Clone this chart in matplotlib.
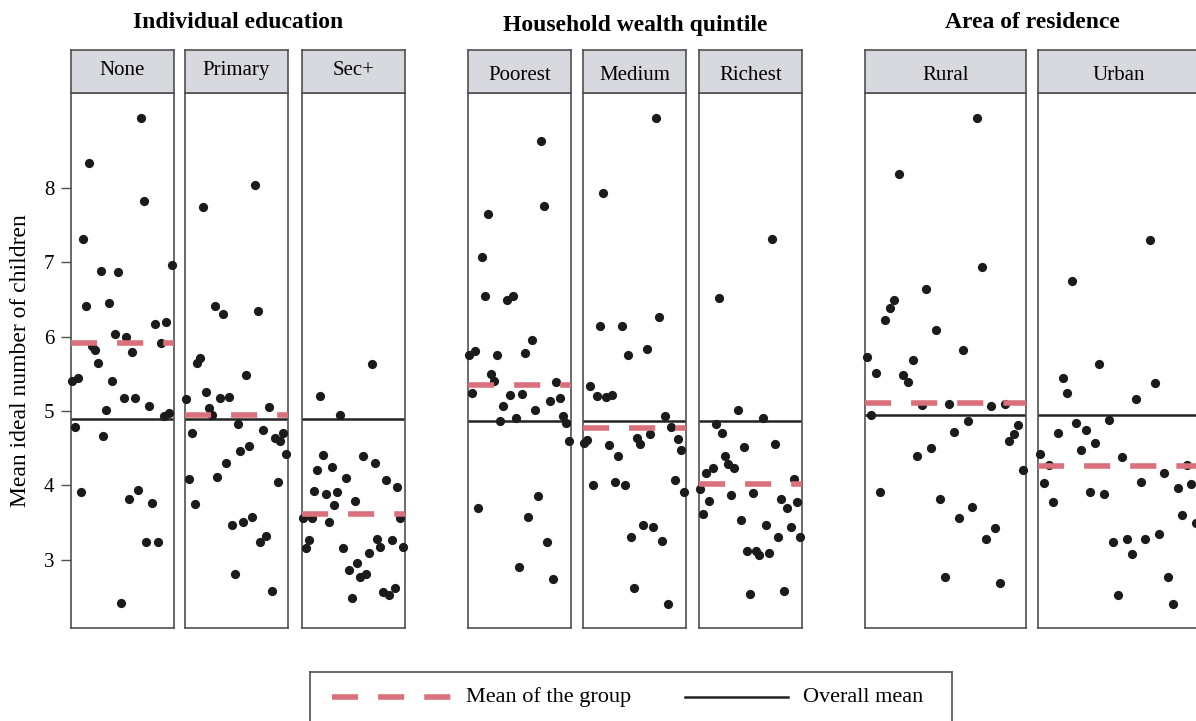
import numpy as np
import matplotlib
matplotlib.use('Agg')
import matplotlib.pyplot as plt
from matplotlib.lines import Line2D

plt.rcParams['font.family'] = ['Liberation Serif', 'DejaVu Serif']

# data
group_titles = ['Individual education', 'Household wealth quintile', 'Area of residence']
group_panels = [['None', 'Primary', 'Sec+'],
                ['Poorest', 'Medium', 'Richest'],
                ['Rural', 'Urban']]
overall_means = [4.89, 4.86, 4.95]

none_vals = [5.40, 4.78, 5.44, 3.91, 7.32, 6.41, 8.34, 5.87, 5.82, 5.64,
             6.89, 4.66, 5.02, 6.45, 5.41, 6.03, 6.87, 2.41, 5.18, 5.99,
             3.82, 5.80, 5.17, 3.94, 8.95, 7.82, 3.24, 5.07, 3.76, 6.17,
             3.24, 5.91, 4.93, 6.20, 4.97, 6.96]
primary_vals = [5.16, 4.08, 4.70, 3.75, 5.65, 5.71, 7.74, 5.25, 5.04, 4.94,
                6.41, 4.11, 5.18, 6.31, 4.30, 5.19, 3.47, 2.81, 4.82, 4.46,
                3.50, 5.48, 4.53, 3.58, 8.04, 6.34, 3.24, 4.75, 3.32, 5.06,
                2.58, 4.64, 4.04, 4.59, 4.71, 4.42]
secplus_vals = [3.56, 3.15, 3.27, 3.56, 3.93, 4.20, 5.20, 4.41, 3.89, 3.50,
                4.24, 3.74, 3.91, 4.95, 3.15, 4.10, 2.86, 2.48, 3.79, 2.96,
                2.76, 4.40, 2.81, 3.09, 5.63, 4.30, 3.28, 3.17, 2.57, 4.07,
                2.53, 3.26, 2.62, 3.98, 3.56, 3.17]
poorest_vals = [5.75, 5.24, 5.81, 3.70, 7.07, 6.55, 7.65, 5.50, 5.41, 5.75,
                4.86, 5.07, 6.50, 5.21, 6.55, 4.91, 2.90, 5.23, 5.78, 3.57,
                5.95, 5.02, 3.85, 8.63, 7.76, 3.24, 5.14, 2.74, 5.39, 5.18,
                4.93, 4.84, 4.59]
medium_vals = [4.57, 4.61, 5.34, 4.01, 5.20, 6.14, 7.94, 5.19, 4.54, 5.21,
               4.05, 4.40, 6.15, 4.00, 5.76, 3.30, 2.62, 4.64, 4.55, 3.47,
               5.83, 4.69, 3.44, 8.95, 6.26, 3.25, 4.93, 2.40, 4.78, 4.07,
               4.62, 4.48, 3.91]
richest_vals = [3.95, 3.61, 4.16, 3.79, 4.23, 4.82, 6.52, 4.70, 4.40, 4.29,
                3.87, 4.23, 5.02, 3.53, 4.51, 3.11, 2.54, 3.90, 3.11, 3.06,
                4.91, 3.47, 3.09, 7.32, 4.55, 3.31, 3.81, 2.58, 3.70, 3.44,
                4.09, 3.77, 3.30]
rural_vals = [5.73, 4.94, 5.51, 3.91, 6.22, 6.38, 6.50, 8.19, 5.49, 5.39,
              5.69, 4.40, 5.08, 6.64, 4.50, 6.09, 3.82, 2.76, 5.09, 4.72,
              3.56, 5.82, 4.87, 3.71, 8.95, 6.94, 3.28, 5.07, 3.43, 2.69,
              5.09, 4.59, 4.69, 4.81, 4.20]
urban_vals = [4.42, 4.03, 4.27, 3.78, 4.71, 5.45, 5.24, 6.75, 4.84, 4.48,
              4.75, 3.91, 4.57, 5.63, 3.88, 4.88, 3.24, 2.52, 4.38, 3.28,
              3.07, 5.16, 4.04, 3.28, 7.30, 5.38, 3.34, 4.16, 2.76, 2.40,
              3.96, 3.60, 4.28, 4.02, 3.49]

panel_values = {'None': none_vals, 'Primary': primary_vals, 'Sec+': secplus_vals,
                'Poorest': poorest_vals, 'Medium': medium_vals, 'Richest': richest_vals,
                'Rural': rural_vals, 'Urban': urban_vals}
group_means = {'None': 5.91, 'Primary': 4.95, 'Sec+': 3.62,
               'Poorest': 5.35, 'Medium': 4.77, 'Richest': 4.02,
               'Rural': 5.11, 'Urban': 4.26}

# layout (pixels)
W, H = 1196, 721
panel_x = {'None': (71, 174), 'Primary': (185, 288), 'Sec+': (302, 405),
           'Poorest': (468, 571), 'Medium': (583, 686), 'Richest': (699, 802),
           'Rural': (865, 1026), 'Urban': (1038, 1199)}
strip_top, strip_bot, plot_bot = 50, 93, 628
title_y = [22, 25, 22]
strip_baseline = [75, 80, 80]

point_color = '#1b1b1b'
mean_color = '#da707b'
frame_color = '#505050'
strip_color = '#d8d9de'
dash_style = (0, (4.7, 3.6))


def add_px_axes(fig, x0, x1, ytop, ybot):
    return fig.add_axes([x0 / W, 1 - ybot / H, (x1 - x0) / W, (ybot - ytop) / H])


fig = plt.figure(figsize=(W / 100, H / 100), dpi=100)

first = True
for g, panels in enumerate(group_panels):
    for name in panels:
        x0, x1 = panel_x[name]
        vals = panel_values[name]
        n = len(vals)

        ax = add_px_axes(fig, x0, x1, strip_bot, plot_bot)
        ax.scatter(np.arange(n), vals, s=44, color=point_color, linewidths=0,
                   clip_on=False, zorder=3)
        ax.axhline(overall_means[g], color='#222222', lw=1.8, zorder=2)
        ax.axhline(group_means[name], color=mean_color, lw=4, ls=dash_style,
                   zorder=4)
        ax.set_xlim(-0.35, n - 0.35)
        ax.set_ylim(2.08, 9.28)
        ax.set_xticks([])
        for sp in ax.spines.values():
            sp.set_color(frame_color)
            sp.set_linewidth(1.2)
        if first:
            ax.set_yticks([3, 4, 5, 6, 7, 8])
            ax.tick_params(axis='y', direction='out', length=7, width=1,
                           color=frame_color, pad=5, labelsize=15)
            first = False
        else:
            ax.set_yticks([])

        sx = add_px_axes(fig, x0, x1, strip_top, strip_bot)
        sx.set_facecolor(strip_color)
        sx.set_xticks([])
        sx.set_yticks([])
        for sp in sx.spines.values():
            sp.set_color(frame_color)
            sp.set_linewidth(1.2)
        ty = (strip_bot - strip_baseline[g]) / (strip_bot - strip_top)
        sx.text(0.5, ty, name, ha='center', va='baseline', fontsize=15,
                transform=sx.transAxes)

    gx0 = panel_x[panels[0]][0]
    gx1 = panel_x[panels[-1]][1]
    fig.text((gx0 + gx1) / 2 / W, 1 - title_y[g] / H, group_titles[g],
             ha='center', va='center', fontsize=17, fontweight='bold')

fig.text(21 / W, 1 - (strip_bot + plot_bot) / 2 / H, 'Mean ideal number of children',
         rotation=90, ha='center', va='center', fontsize=17)

# legend box at the bottom
lx = add_px_axes(fig, 310, 952, 672, 724)
lx.set_xlim(0, 1)
lx.set_ylim(0, 1)
lx.set_xticks([])
lx.set_yticks([])
for sp in lx.spines.values():
    sp.set_color(frame_color)
    sp.set_linewidth(1.2)
ly = (724 - 697) / 52
lx.add_line(Line2D([22 / 642, 143 / 642], [ly, ly], color=mean_color, lw=4,
                   ls=dash_style))
lx.text(156 / 642, ly, 'Mean of the group', ha='left', va='center', fontsize=16)
lx.add_line(Line2D([375 / 642, 478 / 642], [ly, ly], color='#222222', lw=1.8))
lx.text(493 / 642, ly, 'Overall mean', ha='left', va='center', fontsize=16)

fig.savefig('out.png', dpi=100)
